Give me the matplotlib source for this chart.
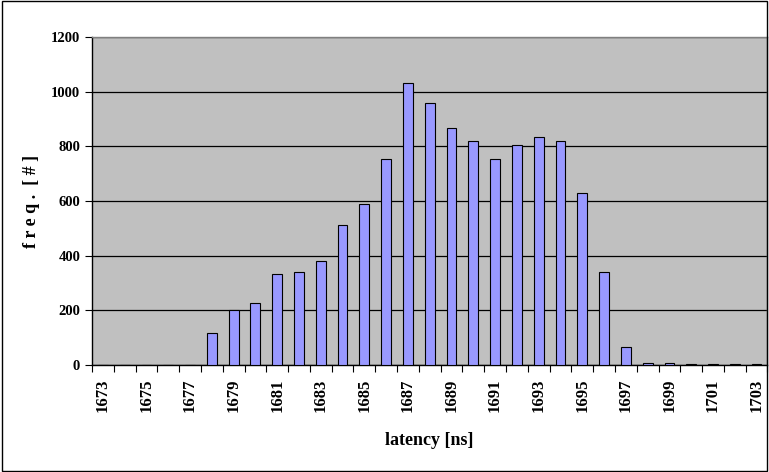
import numpy as np
import matplotlib
matplotlib.use("Agg")
import matplotlib.pyplot as plt
from matplotlib.patches import Rectangle

# ── data ──────────────────────────────────────────────────────────────────────
latency = list(range(1673, 1704))
freq = [0, 0, 0, 0, 0, 116, 200, 226, 332, 342, 381, 513, 588, 755, 1033,
        959, 866, 818, 755, 804, 835, 818, 628, 342, 65, 7, 7, 4, 3, 3, 3]
yticks = [0, 200, 400, 600, 800, 1000, 1200]

plt.rcParams["font.family"] = ["Liberation Serif", "DejaVu Serif"]
plt.rcParams["font.weight"] = "bold"

fig = plt.figure(figsize=(7.69, 4.72), dpi=100)
ax = fig.add_axes([0.1196, 0.2267, 0.8784, 0.695])
ax.set_facecolor("#C0C0C0")

x = np.arange(len(latency))
ax.bar(x, freq, width=0.45, color="#9999FF", edgecolor="black", linewidth=0.8, zorder=3)

ax.set_xlim(-0.5, len(latency) - 0.5)
ax.set_ylim(0, 1200)
ax.set_yticks(yticks)
ax.set_yticklabels([str(v) for v in yticks], fontsize=10.5, fontweight="bold")
ax.yaxis.grid(True, color="black", linewidth=0.9, zorder=1)

# category labels every other value, ticks between categories
ax.set_xticks(x[::2])
ax.set_xticklabels([str(v) for v in latency[::2]], rotation=90,
                   fontsize=12, fontweight="bold")
ax.tick_params(axis="x", which="major", length=0, pad=10)
ax.set_xticks(np.arange(-0.5, len(latency), 1.0), minor=True)
ax.tick_params(axis="x", which="minor", length=5, width=0.8, direction="out")
ax.tick_params(axis="y", length=5, width=0.8, direction="out")

for s in ["left", "bottom"]:
    ax.spines[s].set_color("black")
    ax.spines[s].set_linewidth(1.0)
for s in ["top", "right"]:
    ax.spines[s].set_color("#808080")
    ax.spines[s].set_linewidth(1.0)

ax.set_xlabel("latency [ns]", fontsize=13, fontweight="bold", labelpad=14)
ax.set_ylabel("f r e q .  [ # ]", fontsize=13, fontweight="bold", labelpad=8)

# outer chart border
fig.patches.append(Rectangle((0.002, 0.003), 0.996, 0.994, transform=fig.transFigure,
                             fill=False, edgecolor="black", linewidth=1.0))

plt.savefig("out.png", dpi=100)
plt.close()
